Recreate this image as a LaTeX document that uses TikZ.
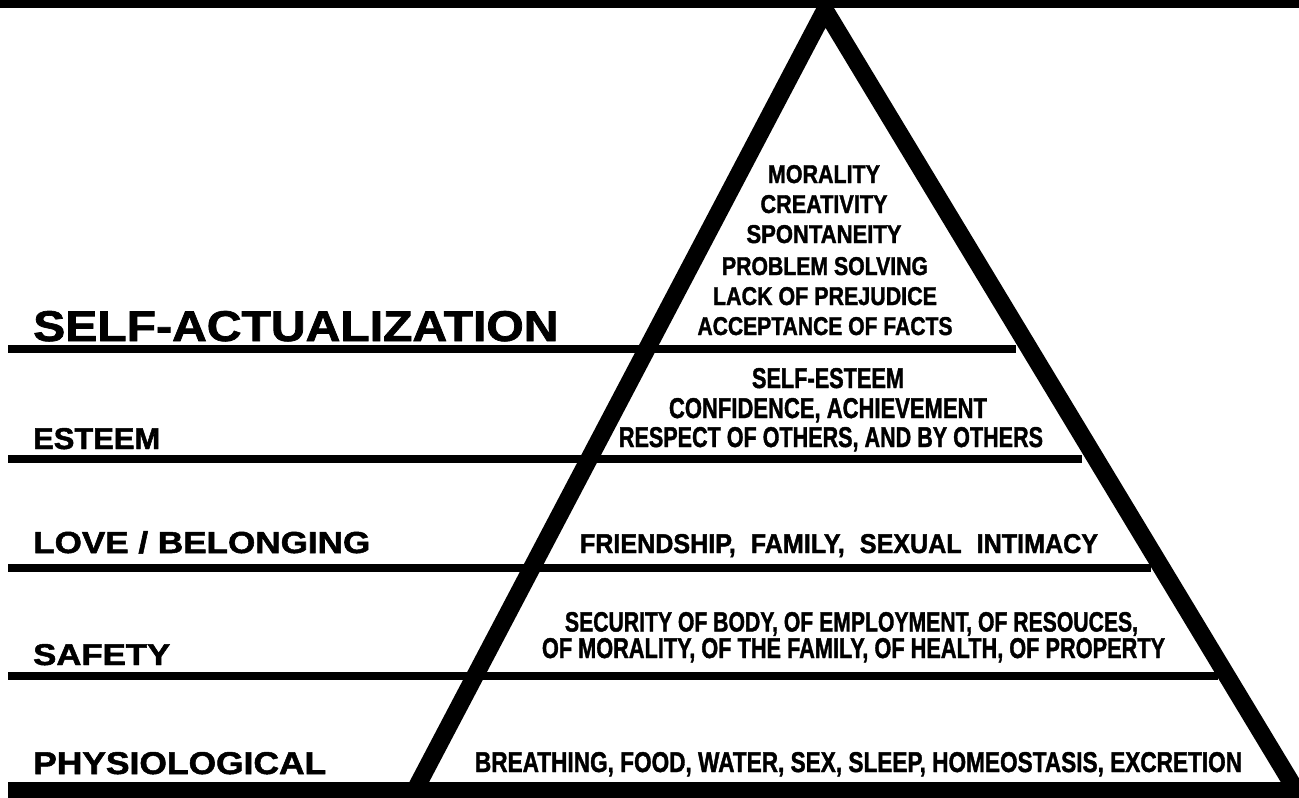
\documentclass[tikz,border=0pt]{standalone}
\usepackage{fontspec}
\setmainfont{Liberation Sans}[BoldFeatures={FakeBold=1.6}]
\usepackage{graphicx}
\newcommand{\rsk}[3]{\resizebox{#1pt}{#2pt}{#3}}
\begin{document}
\begin{tikzpicture}[x=1pt,y=-1pt,
  lbl/.style={anchor=base west,inner sep=0pt,font=\bfseries},
  txt/.style={anchor=base,inner sep=0pt,font=\bfseries},
  bar/.style={line width=8pt},
  edge/.style={line width=17.5pt,line join=miter,miter limit=10}]
\useasboundingbox (0,0) rectangle (1299,798);
\begin{scope}
\clip (0,0) rectangle (1299,798);
% coordinates
\coordinate (apex) at (825,10);
\coordinate (bl) at (414,792);
\coordinate (br) at (1297,792);
\draw[edge] (bl) -- (apex) -- (br);
\fill (0,0) rectangle (1299,8);
\fill (8,782) rectangle (1299,798);
\end{scope}
% level lines
\coordinate (l1a) at (8,348.5);  \coordinate (l1b) at (1016,348.5);
\coordinate (l2a) at (8,459);    \coordinate (l2b) at (1082,459);
\coordinate (l3a) at (8,568);    \coordinate (l3b) at (1151,568);
\coordinate (l4a) at (8,675.5);  \coordinate (l4b) at (1218,675.5);
\draw[bar] (l1a) -- (l1b);
\draw[bar] (l2a) -- (l2b);
\draw[bar] (l3a) -- (l3b);
\draw[bar] (l4a) -- (l4b);
% left labels
\node[lbl] (sa) at (33,341) {\rsk{525}{30}{SELF-ACTUALIZATION}};
\node[lbl] (es) at (33,449) {\rsk{127}{21}{ESTEEM}};
\node[lbl] (lb) at (33,553) {\rsk{337}{22}{LOVE / BELONGING}};
\node[lbl] (sf) at (33,665) {\rsk{137}{21}{SAFETY}};
\node[lbl] (ph) at (33,774) {\rsk{293}{22}{PHYSIOLOGICAL}};
% self-actualization contents
\node[txt] (sa1) at (824,183) {\rsk{112}{18}{MORALITY}};
\node[txt] (sa2) at (824,213) {\rsk{127}{18}{CREATIVITY}};
\node[txt] (sa3) at (824,243) {\rsk{155}{18}{SPONTANEITY}};
\node[txt] (sa4) at (825,275) {\rsk{206}{18}{PROBLEM SOLVING}};
\node[txt] (sa5) at (825,305) {\rsk{224}{18}{LACK OF PREJUDICE}};
\node[txt] (sa6) at (825,335) {\rsk{255}{18}{ACCEPTANCE OF FACTS}};
% esteem contents
\node[txt] (es1) at (828,388) {\rsk{152}{20}{SELF-ESTEEM}};
\node[txt] (es2) at (828,418) {\rsk{318}{20}{CONFIDENCE, ACHIEVEMENT}};
\node[txt] (es3) at (831,447) {\rsk{424}{20}{RESPECT OF OTHERS, AND BY OTHERS}};
% love contents
\node[txt] (lb1) at (839,553) {\rsk{518}{19}{FRIENDSHIP,\hspace{0.6em}FAMILY,\hspace{0.6em}SEXUAL\hspace{0.6em}INTIMACY}};
% safety contents
\node[txt] (sf1) at (851.5,631.5) {\rsk{573}{19.5}{SECURITY OF BODY, OF EMPLOYMENT, OF RESOUCES,}};
\node[txt] (sf2) at (853.5,658) {\rsk{623}{20}{OF MORALITY, OF THE FAMILY, OF HEALTH, OF PROPERTY}};
% physiological contents
\node[txt] (ph1) at (858.5,772) {\rsk{767}{20}{BREATHING, FOOD, WATER, SEX, SLEEP, HOMEOSTASIS, EXCRETION}};
\end{tikzpicture}
\end{document}
